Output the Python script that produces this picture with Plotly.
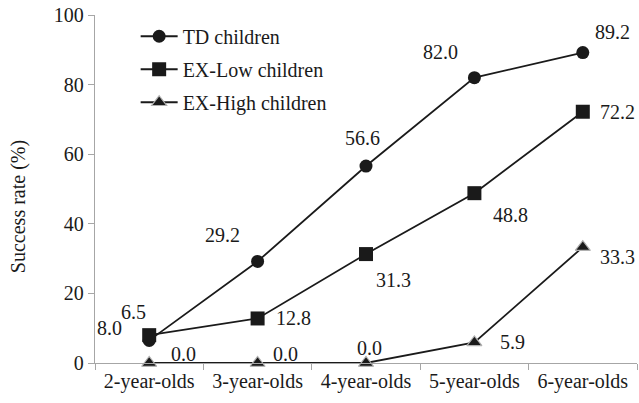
import plotly.graph_objects as go

categories = ["2-year-olds", "3-year-olds", "4-year-olds", "5-year-olds", "6-year-olds"]
td_values = [6.5, 29.2, 56.6, 82.0, 89.2]
exlow_values = [8.0, 12.8, 31.3, 48.8, 72.2]
exhigh_values = [0.0, 0.0, 0.0, 5.9, 33.3]
series_names = ["TD children", "EX-Low children", "EX-High children"]
y_ticks = [0, 20, 40, 60, 80, 100]
y_title = "Success rate (%)"

FONT = "Liberation Serif"
INK = "#1a1a1a"
AXIS = "#a6a6a6"

# label offsets in pixels (style only)
td_off = [(-16, 28), (-35, 26), (-4, 28), (-34, 26), (30, 21)]
exlow_off = [(-40, 7), (36, 0), (27, -26), (36, -22), (35, 0)]
exhigh_off = [(34, 9), (28, 9), (3, 15), (38, 0), (35, -10)]

fig = go.Figure()
styles = [
    dict(symbol="circle", size=13, line=dict(width=0)),
    dict(symbol="square", size=14, line=dict(width=0)),
    dict(symbol="triangle-up", size=13, line=dict(width=1.2, color="#b0b0b0")),
]
for i, (name, vals) in enumerate(zip(series_names, [td_values, exlow_values, exhigh_values])):
    st = styles[i]
    fig.add_trace(go.Scatter(
        x=categories, y=vals, name=name, mode="lines+markers",
        line=dict(color=INK, width=1.8),
        marker=dict(symbol=st["symbol"], size=st["size"], color=INK, line=st["line"]),
        cliponaxis=False, legendgroup=f"g{i}",
    ))

for vals, offs in [(td_values, td_off), (exlow_values, exlow_off), (exhigh_values, exhigh_off)]:
    for c, v, (dx, dy) in zip(categories, vals, offs):
        fig.add_annotation(x=c, y=v, text=f"{v:.1f}", showarrow=False,
                           xshift=dx, yshift=dy,
                           font=dict(family=FONT, size=20, color=INK))

# y-axis title
fig.add_annotation(text=y_title, xref="paper", yref="paper", x=-0.142, y=0.448,
                   xanchor="center", yanchor="middle", textangle=-90, showarrow=False,
                   font=dict(family=FONT, size=20, color=INK))

fig.update_layout(
    width=639, height=403,
    margin=dict(l=95, r=2, t=15, b=40, autoexpand=False),
    paper_bgcolor="white", plot_bgcolor="white",
    font=dict(family=FONT, size=20, color=INK),
    showlegend=True,
    legend=dict(x=0.075, y=0.995, xanchor="left", yanchor="top",
                bgcolor="rgba(0,0,0,0)", font=dict(family=FONT, size=20, color=INK),
                traceorder="grouped", tracegroupgap=4, itemwidth=37),
    xaxis=dict(
        type="category", categoryorder="array", categoryarray=categories,
        range=[-0.5, 4.5], showline=True, linecolor=AXIS, linewidth=1.3,
        ticks="outside", tickson="boundaries", ticklen=6, tickcolor=AXIS, tickwidth=1.3,
        showgrid=False, zeroline=False, automargin=False, tickangle=0,
        tickfont=dict(family=FONT, size=20, color=INK),
    ),
    yaxis=dict(
        range=[0, 100], tickvals=y_ticks, showline=True, linecolor=AXIS, linewidth=1.3,
        ticks="outside", ticklen=6, tickcolor=AXIS, tickwidth=1.3,
        showgrid=False, zeroline=False, automargin=False,
        ticksuffix="\u2009\u2009",
        tickfont=dict(family=FONT, size=20, color=INK),
    ),
)

fig.write_html("out.html", config={"displayModeBar": False},
               post_script="document.body.style.margin='0';document.body.style.overflow='hidden';")
